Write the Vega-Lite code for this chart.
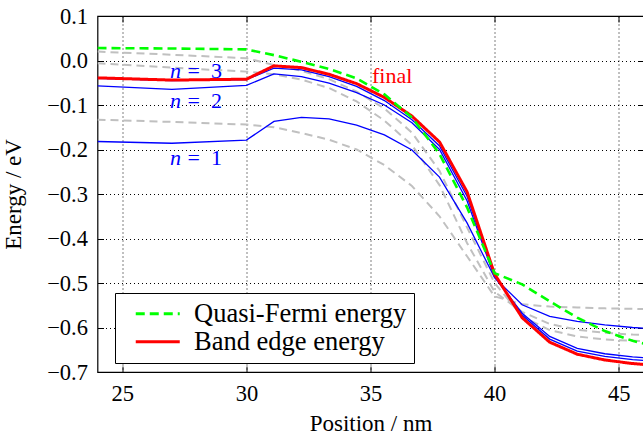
{
  "$schema": "https://vega.github.io/schema/vega-lite/v6.json",
  "autosize": {"type": "none"},
  "padding": {"left": 97.5, "top": 16, "right": 0, "bottom": 67},
  "width": 546,
  "height": 356,
  "config": {
    "font": "Liberation Serif",
    "view": {"stroke": "black", "strokeWidth": 1.2},
    "axis": {"labelColor": "black", "titleColor": "black", "titleFontWeight": "normal", "tickColor": "black", "tickWidth": 1}
  },
  "datasets": {
    "curves": [
      {"s": "Band edge energy", "x": 24, "y": -0.039}, {"s": "Band edge energy", "x": 27, "y": -0.044}, {"s": "Band edge energy", "x": 30, "y": -0.042},
      {"s": "Band edge energy", "x": 31.11, "y": -0.012}, {"s": "Band edge energy", "x": 32.22, "y": -0.016}, {"s": "Band edge energy", "x": 33.33, "y": -0.031},
      {"s": "Band edge energy", "x": 34.44, "y": -0.052}, {"s": "Band edge energy", "x": 35.56, "y": -0.083}, {"s": "Band edge energy", "x": 36.67, "y": -0.125},
      {"s": "Band edge energy", "x": 37.78, "y": -0.183}, {"s": "Band edge energy", "x": 38.89, "y": -0.295}, {"s": "Band edge energy", "x": 40, "y": -0.48},
      {"s": "Band edge energy", "x": 41.11, "y": -0.578}, {"s": "Band edge energy", "x": 42.22, "y": -0.633}, {"s": "Band edge energy", "x": 43.33, "y": -0.66},
      {"s": "Band edge energy", "x": 44.44, "y": -0.673}, {"s": "Band edge energy", "x": 45.56, "y": -0.681}, {"s": "Band edge energy", "x": 46.67, "y": -0.686},

      {"s": "Quasi-Fermi energy", "x": 24, "y": 0.028}, {"s": "Quasi-Fermi energy", "x": 27, "y": 0.027}, {"s": "Quasi-Fermi energy", "x": 30, "y": 0.025},
      {"s": "Quasi-Fermi energy", "x": 31.11, "y": 0.012}, {"s": "Quasi-Fermi energy", "x": 32.22, "y": -0.003}, {"s": "Quasi-Fermi energy", "x": 33.33, "y": -0.019},
      {"s": "Quasi-Fermi energy", "x": 34.44, "y": -0.04}, {"s": "Quasi-Fermi energy", "x": 35.56, "y": -0.076}, {"s": "Quasi-Fermi energy", "x": 36.67, "y": -0.128},
      {"s": "Quasi-Fermi energy", "x": 37.78, "y": -0.21}, {"s": "Quasi-Fermi energy", "x": 38.89, "y": -0.33}, {"s": "Quasi-Fermi energy", "x": 40, "y": -0.478},
      {"s": "Quasi-Fermi energy", "x": 41.11, "y": -0.503}, {"s": "Quasi-Fermi energy", "x": 42.22, "y": -0.541}, {"s": "Quasi-Fermi energy", "x": 43.33, "y": -0.578},
      {"s": "Quasi-Fermi energy", "x": 44.44, "y": -0.608}, {"s": "Quasi-Fermi energy", "x": 45.56, "y": -0.63}, {"s": "Quasi-Fermi energy", "x": 46.67, "y": -0.645},

      {"s": "n3", "x": 24, "y": -0.04}, {"s": "n3", "x": 27, "y": -0.045}, {"s": "n3", "x": 30, "y": -0.043},
      {"s": "n3", "x": 31.11, "y": -0.017}, {"s": "n3", "x": 32.22, "y": -0.021}, {"s": "n3", "x": 33.33, "y": -0.036},
      {"s": "n3", "x": 34.44, "y": -0.058}, {"s": "n3", "x": 35.56, "y": -0.09}, {"s": "n3", "x": 36.67, "y": -0.133},
      {"s": "n3", "x": 37.78, "y": -0.192}, {"s": "n3", "x": 38.89, "y": -0.305}, {"s": "n3", "x": 40, "y": -0.483},
      {"s": "n3", "x": 41.11, "y": -0.572}, {"s": "n3", "x": 42.22, "y": -0.626}, {"s": "n3", "x": 43.33, "y": -0.653},
      {"s": "n3", "x": 44.44, "y": -0.665}, {"s": "n3", "x": 45.56, "y": -0.672}, {"s": "n3", "x": 46.67, "y": -0.677},

      {"s": "n2", "x": 24, "y": -0.057}, {"s": "n2", "x": 27, "y": -0.065}, {"s": "n2", "x": 30, "y": -0.056},
      {"s": "n2", "x": 31.11, "y": -0.03}, {"s": "n2", "x": 32.22, "y": -0.036}, {"s": "n2", "x": 33.33, "y": -0.051},
      {"s": "n2", "x": 34.44, "y": -0.072}, {"s": "n2", "x": 35.56, "y": -0.1}, {"s": "n2", "x": 36.67, "y": -0.14},
      {"s": "n2", "x": 37.78, "y": -0.2}, {"s": "n2", "x": 38.89, "y": -0.315}, {"s": "n2", "x": 40, "y": -0.487},
      {"s": "n2", "x": 41.11, "y": -0.568}, {"s": "n2", "x": 42.22, "y": -0.62}, {"s": "n2", "x": 43.33, "y": -0.647},
      {"s": "n2", "x": 44.44, "y": -0.659}, {"s": "n2", "x": 45.56, "y": -0.666}, {"s": "n2", "x": 46.67, "y": -0.67},

      {"s": "n1", "x": 24, "y": -0.182}, {"s": "n1", "x": 27, "y": -0.186}, {"s": "n1", "x": 30, "y": -0.179},
      {"s": "n1", "x": 31.11, "y": -0.137}, {"s": "n1", "x": 32.22, "y": -0.128}, {"s": "n1", "x": 33.33, "y": -0.131},
      {"s": "n1", "x": 34.44, "y": -0.145}, {"s": "n1", "x": 35.56, "y": -0.167}, {"s": "n1", "x": 36.67, "y": -0.201},
      {"s": "n1", "x": 37.78, "y": -0.262}, {"s": "n1", "x": 38.89, "y": -0.365}, {"s": "n1", "x": 40, "y": -0.488},
      {"s": "n1", "x": 41.11, "y": -0.549}, {"s": "n1", "x": 42.22, "y": -0.575}, {"s": "n1", "x": 43.33, "y": -0.586},
      {"s": "n1", "x": 44.44, "y": -0.594}, {"s": "n1", "x": 45.56, "y": -0.6}, {"s": "n1", "x": 46.67, "y": -0.604},

      {"s": "g1", "x": 24, "y": 0.02}, {"s": "g1", "x": 27, "y": 0.013}, {"s": "g1", "x": 30, "y": 0.005},
      {"s": "g1", "x": 31.11, "y": -0.01}, {"s": "g1", "x": 32.22, "y": -0.023}, {"s": "g1", "x": 33.33, "y": -0.042},
      {"s": "g1", "x": 34.44, "y": -0.07}, {"s": "g1", "x": 35.56, "y": -0.108}, {"s": "g1", "x": 36.67, "y": -0.162},
      {"s": "g1", "x": 37.78, "y": -0.248}, {"s": "g1", "x": 38.89, "y": -0.375}, {"s": "g1", "x": 40, "y": -0.5},
      {"s": "g1", "x": 41.11, "y": -0.575}, {"s": "g1", "x": 42.22, "y": -0.606}, {"s": "g1", "x": 43.33, "y": -0.62},
      {"s": "g1", "x": 44.44, "y": -0.627}, {"s": "g1", "x": 45.56, "y": -0.63}, {"s": "g1", "x": 46.67, "y": -0.632},

      {"s": "g2", "x": 24, "y": -0.006}, {"s": "g2", "x": 27, "y": -0.016}, {"s": "g2", "x": 30, "y": -0.025},
      {"s": "g2", "x": 31.11, "y": -0.031}, {"s": "g2", "x": 32.22, "y": -0.043}, {"s": "g2", "x": 33.33, "y": -0.062},
      {"s": "g2", "x": 34.44, "y": -0.092}, {"s": "g2", "x": 35.56, "y": -0.135}, {"s": "g2", "x": 36.67, "y": -0.19},
      {"s": "g2", "x": 37.78, "y": -0.28}, {"s": "g2", "x": 38.89, "y": -0.41}, {"s": "g2", "x": 40, "y": -0.52},
      {"s": "g2", "x": 41.11, "y": -0.565}, {"s": "g2", "x": 42.22, "y": -0.592}, {"s": "g2", "x": 43.33, "y": -0.605},
      {"s": "g2", "x": 44.44, "y": -0.612}, {"s": "g2", "x": 45.56, "y": -0.616}, {"s": "g2", "x": 46.67, "y": -0.618},

      {"s": "g3", "x": 24, "y": -0.133}, {"s": "g3", "x": 27, "y": -0.138}, {"s": "g3", "x": 30, "y": -0.144},
      {"s": "g3", "x": 31.11, "y": -0.15}, {"s": "g3", "x": 32.22, "y": -0.163}, {"s": "g3", "x": 33.33, "y": -0.178},
      {"s": "g3", "x": 34.44, "y": -0.2}, {"s": "g3", "x": 35.56, "y": -0.235}, {"s": "g3", "x": 36.67, "y": -0.282},
      {"s": "g3", "x": 37.78, "y": -0.35}, {"s": "g3", "x": 38.89, "y": -0.44}, {"s": "g3", "x": 40, "y": -0.53},
      {"s": "g3", "x": 41.11, "y": -0.548}, {"s": "g3", "x": 42.22, "y": -0.553}, {"s": "g3", "x": 43.33, "y": -0.555},
      {"s": "g3", "x": 44.44, "y": -0.557}, {"s": "g3", "x": 45.56, "y": -0.558}, {"s": "g3", "x": 46.67, "y": -0.559}
    ],
    "levels": [
      {"x": 27.53, "y": -0.04, "n": "n", "r": "=\u00a0\u00a03"},
      {"x": 27.53, "y": -0.106, "n": "n", "r": "=\u00a0\u00a02"},
      {"x": 27.53, "y": -0.235, "n": "n", "r": "=\u00a0\u00a01"}
    ],
    "notes": [
      {"x": 35.06, "y": -0.05, "t": "final"}
    ]
  },
  "resolve": {"axis": {"x": "independent", "y": "independent"}},
  "layer": [
    {
      "data": {"name": "curves"},
      "transform": [{"filter": {"field": "s", "oneOf": ["g1", "g2", "g3"]}}],
      "mark": {"type": "line", "clip": true, "color": "#c0c0c0", "strokeWidth": 2, "strokeDash": [8, 5]},
      "encoding": {
        "x": {"field": "x", "type": "quantitative", "scale": {"domain": [24, 46], "nice": false, "zero": false},
          "axis": {"orient": "bottom", "values": [25, 30, 35, 40, 45], "grid": true, "gridColor": "black", "gridDash": [1, 3], "gridWidth": 1,
            "domain": false, "tickSize": -6, "labelPadding": 16, "labelFontSize": 22.5, "title": "Position / nm", "titleFontSize": 23, "titlePadding": 8}},
        "y": {"field": "y", "type": "quantitative", "scale": {"domain": [-0.7, 0.1], "nice": false, "zero": false},
          "axis": {"orient": "left", "values": [-0.7, -0.6, -0.5, -0.4, -0.3, -0.2, -0.1, 0, 0.1], "format": ".1f", "grid": true, "gridColor": "black", "gridDash": [1, 3], "gridWidth": 1,
            "domain": false, "tickSize": -6, "labelPadding": 16, "labelFontSize": 22.5, "title": "Energy / eV", "titleFontSize": 23, "titlePadding": 21}},
        "detail": {"field": "s"}
      }
    },
    {
      "data": {"name": "curves"},
      "transform": [{"filter": {"field": "s", "oneOf": ["n1", "n2", "n3"]}}],
      "mark": {"type": "line", "clip": true, "color": "#0000ff", "strokeWidth": 1.3},
      "encoding": {
        "x": {"field": "x", "type": "quantitative", "scale": {"domain": [24, 46], "nice": false, "zero": false},
          "axis": {"orient": "top", "values": [25, 30, 35, 40, 45], "grid": false, "domain": false, "labels": false, "tickSize": -6, "title": null}},
        "y": {"field": "y", "type": "quantitative", "scale": {"domain": [-0.7, 0.1], "nice": false, "zero": false},
          "axis": {"orient": "right", "values": [-0.7, -0.6, -0.5, -0.4, -0.3, -0.2, -0.1, 0, 0.1], "grid": false, "domain": false, "labels": false, "tickSize": -6, "title": null}},
        "detail": {"field": "s"}
      }
    },
    {
      "data": {"name": "curves"},
      "transform": [{"filter": {"field": "s", "equal": "Band edge energy"}}],
      "mark": {"type": "line", "clip": true, "strokeWidth": 3},
      "encoding": {
        "x": {"field": "x", "type": "quantitative", "axis": null},
        "y": {"field": "y", "type": "quantitative", "axis": null},
        "color": {"field": "s", "type": "nominal",
          "scale": {"domain": ["Quasi-Fermi energy", "Band edge energy"], "range": ["#00ff00", "#ff0000"]},
          "legend": {"title": null, "orient": "none", "legendX": 17.5, "legendY": 277, "padding": 7.5, "strokeColor": "black", "fillColor": "white",
            "symbolType": "M-4,0H4", "symbolSize": 121, "symbolStrokeWidth": 3, "symbolOffset": 22, "labelOffset": 23, "labelLimit": 400,
            "labelFontSize": 26.5, "labelColor": "black", "rowPadding": 1}},
        "strokeDash": {"field": "s", "type": "nominal",
          "scale": {"domain": ["Quasi-Fermi energy", "Band edge energy"], "range": [[9, 5], [1, 0]]},
          "legend": {"title": null, "orient": "none", "legendX": 17.5, "legendY": 277, "padding": 7.5, "strokeColor": "black", "fillColor": "white",
            "symbolType": "M-4,0H4", "symbolSize": 121, "symbolStrokeWidth": 3, "symbolOffset": 22, "labelOffset": 23, "labelLimit": 400,
            "labelFontSize": 26.5, "labelColor": "black", "rowPadding": 1}}
      }
    },
    {
      "data": {"name": "curves"},
      "transform": [{"filter": {"field": "s", "equal": "Quasi-Fermi energy"}}],
      "mark": {"type": "line", "clip": true, "strokeWidth": 2.6},
      "encoding": {
        "x": {"field": "x", "type": "quantitative", "axis": null},
        "y": {"field": "y", "type": "quantitative", "axis": null},
        "color": {"field": "s", "type": "nominal"},
        "strokeDash": {"field": "s", "type": "nominal"}
      }
    },
    {
      "data": {"name": "levels"},
      "mark": {"type": "text", "color": "#0000ff", "fontSize": 22, "fontStyle": "italic", "align": "right", "baseline": "alphabetic", "dx": -4},
      "encoding": {
        "x": {"field": "x", "type": "quantitative", "axis": null},
        "y": {"field": "y", "type": "quantitative", "axis": null},
        "text": {"field": "n"}
      }
    },
    {
      "data": {"name": "levels"},
      "mark": {"type": "text", "color": "#0000ff", "fontSize": 22, "align": "left", "baseline": "alphabetic", "dx": 2.5},
      "encoding": {
        "x": {"field": "x", "type": "quantitative", "axis": null},
        "y": {"field": "y", "type": "quantitative", "axis": null},
        "text": {"field": "r"}
      }
    },
    {
      "data": {"name": "notes"},
      "mark": {"type": "text", "color": "#ff0000", "fontSize": 22, "align": "left", "baseline": "alphabetic"},
      "encoding": {
        "x": {"field": "x", "type": "quantitative", "axis": null},
        "y": {"field": "y", "type": "quantitative", "axis": null},
        "text": {"field": "t"}
      }
    }
  ]
}
